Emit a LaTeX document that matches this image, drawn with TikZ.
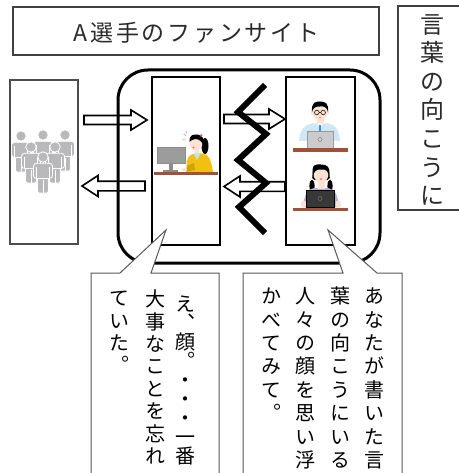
\documentclass[tikz,border=0pt]{standalone}
\usepackage{fontspec}
\newfontfamily\jp{Noto Sans CJK JP}
\newfontfamily\jpv[RawFeature=+vert]{Noto Sans CJK JP}
\usetikzlibrary{calc}

\definecolor{deskbrown}{HTML}{A3503A}
\definecolor{skincol}{HTML}{FCE2D2}
\definecolor{womanyellow}{HTML}{F2C011}
\definecolor{collarblue}{HTML}{BFE3F5}
\definecolor{shirtblue}{HTML}{CFE8F7}
\definecolor{tieblue}{HTML}{3E8FD0}
\definecolor{shirtpurple}{HTML}{B9AEDC}
\definecolor{laptopgrey}{HTML}{CBCBCB}
\definecolor{monitorgrey}{HTML}{9C9C9C}
\definecolor{fangrey}{HTML}{B9B9BB}
\definecolor{ink}{HTML}{2A2A2A}

\tikzset{
  panel/.style={draw, line width=2.2, inner sep=0, outer sep=0},
  thinbox/.style={draw=black!75, line width=1.2, inner sep=0, outer sep=0},
  blockarrow/.style={draw, line width=1.6, line join=miter},
  callout/.style={fill=white, draw=black!65, line width=1, line join=miter},
  vchar/.style={inner sep=0, outer sep=0, anchor=base, yshift=-7.6pt,
    text height=16pt, text depth=1pt,
    font=\jpv\fontsize{20}{20}\selectfont, text=black},
  vtitle/.style={inner sep=0, outer sep=0, anchor=base, yshift=-9.1pt,
    font=\jp\fontsize{24}{24}\selectfont, text=ink},
}

% one vertical column: style, name, x, centre of first cell, pitch, characters
\newcommand\vcol[6]{%
  \foreach \ch [count=\i from 0] in {#6} {
    \node[#1] (#2-\i) at (#3, {#4+\i*#5}) {\ch};
  }}
% hollow block arrows between two named coordinates
\newcommand\rblock[2]{%
  \draw[blockarrow] ($(#1)+(0,-4.5)$) -- ($(#2)+(-16,-4.5)$) -- ($(#2)+(-16,-10)$)
    -- (#2) -- ($(#2)+(-16,10)$) -- ($(#2)+(-16,4.5)$) -- ($(#1)+(0,4.5)$) -- cycle;}
\newcommand\lblock[2]{%
  \draw[blockarrow] ($(#1)+(0,-4.8)$) -- ($(#2)+(16,-4.8)$) -- ($(#2)+(16,-10.5)$)
    -- (#2) -- ($(#2)+(16,10.5)$) -- ($(#2)+(16,4.8)$) -- ($(#1)+(0,4.8)$) -- cycle;}
% a standing fan, head centre given
\newcommand\fan[2]{%
  \begin{scope}[shift={(#1,#2)}]
    \filldraw[fill=fangrey, draw=white, line width=0.8, rounded corners=1.5]
      (-5.5,19) rectangle (5.5,36);
    \draw[white, line width=0.8] (0,23) -- (0,36);
    \filldraw[fill=fangrey, draw=white, line width=0.8, rounded corners=3]
      (-9.5,6.3) rectangle (9.5,21.5);
    \draw[white, line width=0.8] (-6.4,10) -- (-6.4,21.5) (6.4,10) -- (6.4,21.5);
    \filldraw[fill=fangrey, draw=white, line width=0.8] (0,0) circle (5.2);
  \end{scope}}

\begin{document}
\begin{tikzpicture}[x=1pt, y=-1pt]
\useasboundingbox (0,0) rectangle (458,473);

% ---------- frames ----------
\node[thinbox, minimum width=366, minimum height=48] (titlebox) at (196,31) {};
\node[font=\jp\fontsize{23}{23}\selectfont, text=ink, inner sep=0] (title) at (196.5,33)
  {\addfontfeature{LetterSpace=12}A選手のファンサイト};

\node[thinbox, minimum width=65, minimum height=204] (wordsbox) at (430.5,108) {};
\vcol{vtitle}{w}{432}{24}{28.6}{言,葉,の,向,こ,う,に}

\node[draw=black!70, line width=1.5, inner sep=0, outer sep=0,
  minimum width=68, minimum height=164] (fans) at (44,162) {};

\node[draw, line width=3, rounded corners=30, inner sep=0, outer sep=0,
  minimum width=262, minimum height=193] (site) at (249,166.5) {};

\node[panel, minimum width=68, minimum height=168] (writer) at (186,161) {};
\node[panel, minimum width=69, minimum height=168] (readers) at (320.3,161) {};

% ---------- the crowd of fans ----------
\fan{21}{136}\fan{43}{135}\fan{65}{135}
\fan{31}{147}\fan{55}{147}
\fan{43}{157}

% ---------- the writer at her monitor ----------
\filldraw[fill=monitorgrey, draw=black!45, line width=0.6] (157,147) rectangle (185,163);
\fill[black!45] (168.5,163) rectangle (172.5,170);
\fill[black!45] (163,169.5) rectangle (178,171.5);
\fill[black] (205,146) ellipse (3.5 and 8);
\fill[womanyellow] (186,172) -- (187,161) .. controls (188,155) and (192,153.5) .. (197,153.5)
  -- (202,153.5) .. controls (208,154) and (211,158) .. (213,172) -- cycle;
\fill[skincol] (195,148) rectangle (199,155);
\fill[collarblue] (193.5,153.5) -- (200.5,153.5) -- (197,160) -- cycle;
\fill[skincol] (184,169.8) ellipse (3 and 1.6);
\fill[womanyellow!85!black] (187,166) -- (194,163) -- (195,170) -- (187,171.5) -- cycle;
\fill[skincol] (196,143) ellipse (6.5 and 7.5);
\fill[black] (189.5,142) .. controls (189,134) and (194,134.5) .. (197,134.5)
  .. controls (202,134.5) and (204.5,138) .. (203.5,146)
  .. controls (202,141) and (199,139) .. (195,139)
  .. controls (192,139.5) and (190.5,141) .. (189.5,142) -- cycle;
\fill[magenta!70] (201,135.5) circle (1.5);
\fill[red!75] (193.5,147.5) ellipse (1 and 0.8);
\draw[black!40, line width=0.5] (186,136) -- (183.5,134) (185.5,139) -- (182.5,139.3)
  (187,133.5) -- (186,131);
\fill[deskbrown] (154,171.5) rectangle (218,175);

% ---------- reader with glasses ----------
\fill[shirtblue] (299,141) .. controls (300,129) and (305,124.5) .. (312,123.5) -- (328,123.5)
  .. controls (335,124.5) and (339,129) .. (340,141) -- cycle;
\fill[skincol] (316.5,118) rectangle (323.5,124);
\fill[white] (316.5,123.5) -- (323.5,123.5) -- (320,127.5) -- cycle;
\fill[tieblue] (319.2,125) rectangle (320.8,132);
\fill[skincol] (312.5,113) circle (1.8) (327.5,113) circle (1.8);
\fill[skincol] (320,112) ellipse (7.5 and 8.5);
\fill[black] (312,112) .. controls (311,102) and (316,101.5) .. (320,101.5)
  .. controls (325,101.5) and (329,103) .. (328,112)
  .. controls (327,107) and (324,106) .. (320,106.5)
  .. controls (316,106) and (313,108) .. (312,112) -- cycle;
\draw[black!80, line width=0.7] (316.8,112.5) circle (2.3) (323.2,112.5) circle (2.3)
  (319.1,112.5) -- (320.9,112.5);
\fill[red!60] (320,117.5) ellipse (1.2 and 0.6);
\filldraw[fill=laptopgrey, draw=black!40, line width=0.6] (307,131) rectangle (333,148.5);
\draw[black!50, line width=0.5] (320,139.5) circle (2);
\fill[deskbrown] (293,148.5) rectangle (348,152);

% ---------- reader with pigtails ----------
\fill[black] (312,186) ellipse (2.6 and 6.5) (330,186) ellipse (2.6 and 6.5);
\fill[shirtpurple] (303,207) .. controls (304,194) and (308,189) .. (314,188) -- (328,188)
  .. controls (334,189) and (338,194) .. (339,207) -- cycle;
\fill[skincol] (317.5,180) rectangle (324.5,189);
\fill[skincol] (303.5,204) ellipse (3 and 3.5) (338.5,204) ellipse (3 and 3.5);
\fill[black] (312.2,178) -- (312.8,172) -- (329.2,172) -- (329.8,178) -- (327.5,180) -- (314.5,180) -- cycle;
\fill[skincol] (321,174) ellipse (7.5 and 8.5);
\fill[black] (313,176) .. controls (311,163) and (316,164.5) .. (321,164.5)
  .. controls (327,164.5) and (331,167) .. (329,176)
  .. controls (328,171) and (326,169) .. (321,169.5)
  .. controls (317,169) and (314,171) .. (313,176) -- cycle;
\fill[red!70] (321,179) ellipse (1.3 and 0.8);
\filldraw[fill=black!78, draw=black, line width=0.6] (306,190) rectangle (334,207.5);
\draw[black!55, line width=0.5] (320,198.5) circle (2);
\fill[deskbrown] (293,207.5) rectangle (348,211);

% ---------- arrows ----------
\coordinate (a1t) at (84,120);   \coordinate (a1h) at (147,120);
\coordinate (a2t) at (145,186);  \coordinate (a2h) at (82,186);
\coordinate (a3t) at (224,119);  \coordinate (a3h) at (285,119);
\coordinate (a4t) at (285,186.5);\coordinate (a4h) at (224,186.5);
\rblock{a1t}{a1h}
\lblock{a2t}{a2h}
\rblock{a3t}{a3h}
\lblock{a4t}{a4h}

% ---------- the broken line between writer and readers ----------
\draw[line width=6, line join=miter, miter limit=10]
  (265,85) -- (238,112) -- (266,134) -- (238,160) -- (266,183) -- (239,207) -- (265,233);

% ---------- speech bubbles ----------
\draw[callout] (91,480) -- (91,273) -- (120,273) -- (166,230) -- (151,273)
  -- (219,273) -- (219,480);
\draw[callout] (243,480) -- (243,273) -- (343,273) -- (328,230) -- (377,273)
  -- (402,273) -- (402,480);

% writer's thought
\vcol{vchar}{l1}{185}{304}{19}{え,、,顔,。,・,・,・,一,番}
\vcol{vchar}{l2}{155}{299}{22.4}{大,事,な,こ,と,を,忘,れ}
\vcol{vchar}{l3}{119}{298}{22.4}{て,い,た,。}

% prompt to the reader
\vcol{vchar}{r1}{374}{296}{23.4}{あ,な,た,が,書,い,た,言}
\vcol{vchar}{r2}{340}{296}{23.4}{葉,の,向,こ,う,に,い,る}
\vcol{vchar}{r3}{305}{296}{23.4}{人,々,の,顔,を,思,い,浮}
\vcol{vchar}{r4}{271}{296}{23.4}{か,べ,て,み,て,。}
\end{tikzpicture}
\end{document}
